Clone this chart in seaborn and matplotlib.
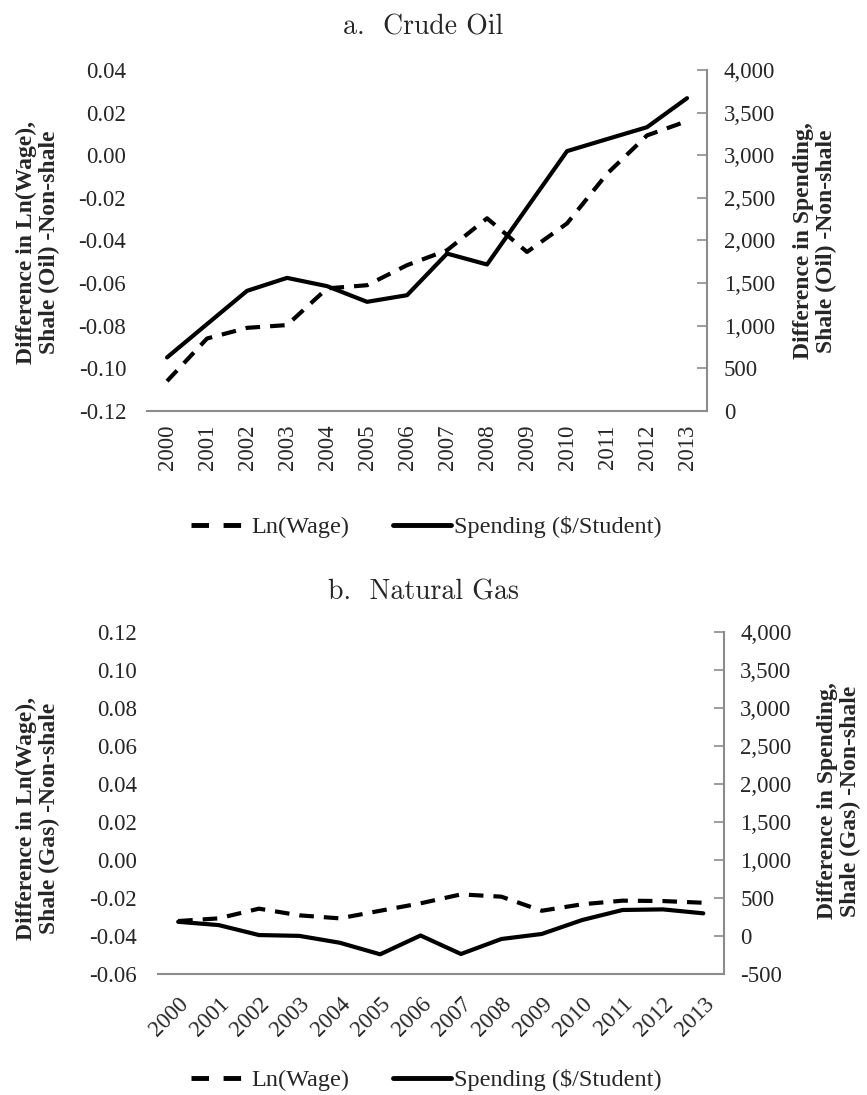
import pandas as pd
import seaborn as sns
import matplotlib.pyplot as plt
from matplotlib.ticker import FuncFormatter, MultipleLocator
from matplotlib.lines import Line2D

# Data
years = list(range(2000, 2014))

oil_wage = [-0.106, -0.086, -0.081, -0.0797, -0.0625, -0.061, -0.0516,
            -0.0446, -0.0296, -0.0454, -0.032, -0.0087, 0.0093, 0.016]
oil_spend = [628, 1019, 1409, 1561, 1464, 1280, 1358,
             1846, 1718, 2385, 3048, 3189, 3329, 3669]

gas_wage = [-0.032, -0.0306, -0.0255, -0.029, -0.0306, -0.0266, -0.0227,
            -0.018, -0.0192, -0.0266, -0.0232, -0.0213, -0.0215, -0.0224]
gas_spend = [190, 147, 16, 5, -85, -237, 10,
             -233, -36, 30, 213, 345, 353, 301]

sns.set_theme(style='white')
plt.rcParams['font.family'] = ['Liberation Serif', 'DejaVu Serif']
plt.rcParams['axes.unicode_minus'] = False

GREY = '#8c8c8c'
DASH = (0, (3.5, 2.4))
TICK_FS = 16.5
LABEL_FS = 17

fig = plt.figure(figsize=(8.67, 10.95), dpi=100)


def draw_panel(rect, wage, spend, wlim, slim, rot):
    ax = fig.add_axes(rect)
    ax2 = ax.twinx()
    df = pd.DataFrame({'year': years, 'wage': wage, 'spend': spend})

    sns.lineplot(data=df, x='year', y='wage', ax=ax, color='black',
                 lw=3, linestyle=DASH)
    sns.lineplot(data=df, x='year', y='spend', ax=ax2, color='black', lw=3)

    ax.set_xlim(1999.5, 2013.5)
    ax.set_ylim(*wlim)
    ax2.set_ylim(*slim)
    ax.set_xlabel('')
    ax.set_ylabel('')
    ax2.set_ylabel('')

    ax.yaxis.set_major_locator(MultipleLocator(0.02))
    ax.yaxis.set_major_formatter(FuncFormatter(lambda v, p: f'{v:.2f}'))
    ax2.yaxis.set_major_locator(MultipleLocator(500))
    ax2.yaxis.set_major_formatter(FuncFormatter(lambda v, p: f'{v:,.0f}'))

    ax.set_xticks(years)
    ax.set_xticklabels([str(y) for y in years])

    for s in ['left', 'top', 'right']:
        ax.spines[s].set_visible(False)
    ax.spines['bottom'].set_color(GREY)
    ax.spines['bottom'].set_linewidth(1.5)
    for s in ['left', 'top', 'bottom']:
        ax2.spines[s].set_visible(False)
    ax2.spines['right'].set_color(GREY)
    ax2.spines['right'].set_linewidth(1.5)

    ax.tick_params(axis='y', length=0, pad=15, labelsize=TICK_FS)
    ax2.tick_params(axis='y', direction='in', length=7, width=1.2,
                    color=GREY, pad=12, labelsize=TICK_FS)

    if rot == 90:
        ax.tick_params(axis='x', length=0, pad=10, labelsize=TICK_FS,
                       labelrotation=90)
    else:
        ax.tick_params(axis='x', length=0, pad=14, labelsize=TICK_FS)
        plt.setp(ax.get_xticklabels(), rotation=45, ha='right',
                 rotation_mode='anchor')
    return ax, ax2


# a. Crude Oil
draw_panel([0.1696, 0.6247, 0.6459, 0.3114], oil_wage, oil_spend,
           (-0.12, 0.04), (0, 4000), 90)
# b. Natural Gas
draw_panel([0.1822, 0.1102, 0.6523, 0.3129], gas_wage, gas_spend,
           (-0.06, 0.12), (-500, 4000), 45)

fig.text(423 / 867, 1 - 27 / 1095, 'a.  Crude Oil', family='cmr10',
         fontsize=20, ha='center', va='center')
fig.text(424 / 867, 1 - 592 / 1095, 'b.  Natural Gas', family='cmr10',
         fontsize=20, ha='center', va='center')

fig.text(38 / 867, 1 - 242 / 1095,
         'Difference in Ln(Wage),\nShale (Oil) -Non-shale',
         rotation=90, ha='center', va='center', fontsize=LABEL_FS,
         fontweight='bold', linespacing=1.1)
fig.text(815 / 867, 1 - 241 / 1095,
         'Difference in Spending,\nShale (Oil) -Non-shale',
         rotation=90, ha='center', va='center', fontsize=LABEL_FS,
         fontweight='bold', linespacing=1.1)
fig.text(38 / 867, 1 - 818 / 1095,
         'Difference in Ln(Wage),\nShale (Gas) -Non-shale',
         rotation=90, ha='center', va='center', fontsize=LABEL_FS,
         fontweight='bold', linespacing=1.1)
fig.text(839 / 867, 1 - 801 / 1095,
         'Difference in Spending,\nShale (Gas) -Non-shale',
         rotation=90, ha='center', va='center', fontsize=LABEL_FS,
         fontweight='bold', linespacing=1.1)

# legend: the dashed key shows two long dashes
handles = [Line2D([], [], color='black', lw=3.5, linestyle=(0, (3.6, 3.0))),
           Line2D([], [], color='black', lw=3.5)]
labels = ['Ln(Wage)', 'Spending ($/Student)']
for yc in (527, 1080):
    fig.legend(handles, labels, loc='center',
               bbox_to_anchor=(426 / 867, 1 - yc / 1095), ncol=2,
               frameon=False, handlelength=2.4, handletextpad=0.1,
               columnspacing=1.8, fontsize=17.5)

fig.savefig('out.png', dpi=100)
